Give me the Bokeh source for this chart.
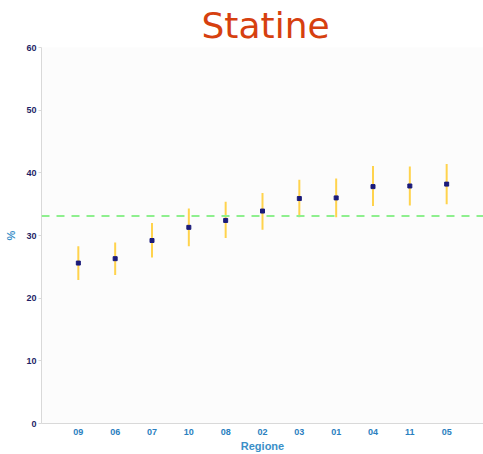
from bokeh.plotting import figure
from bokeh.models import FactorRange, Range1d, Span, ColumnDataSource
from bokeh.embed import file_html
from bokeh.resources import INLINE

regions = ["09", "06", "07", "10", "08", "02", "03", "01", "04", "11", "05"]
values = [25.6, 26.3, 29.2, 31.3, 32.4, 33.9, 35.9, 36.0, 37.8, 37.9, 38.2]
lower = [22.9, 23.7, 26.5, 28.3, 29.6, 30.9, 32.9, 32.9, 34.7, 34.8, 35.0]
upper = [28.3, 28.9, 32.0, 34.3, 35.4, 36.8, 38.9, 39.1, 41.1, 41.0, 41.4]
reference = 33.1
y_ticks = [0, 10, 20, 30, 40, 50, 60]
title_text = "Statine"

src = ColumnDataSource(data=dict(r=regions, v=values, lo=lower, hi=upper))

p = figure(
    x_range=FactorRange(*regions, range_padding=0.5, range_padding_units="absolute"),
    y_range=Range1d(0, 60),
    width=483, height=454,
    min_border_left=41, min_border_right=0, min_border_top=47, min_border_bottom=31,
    output_backend="svg", toolbar_location=None,
    background_fill_color="#fcfcfc", border_fill_color="white",
    title=title_text,
)
p.outline_line_color = None
p.xgrid.grid_line_color = None
p.ygrid.grid_line_color = None

p.title.text_font = "DejaVu Sans"
p.title.text_font_size = "36px"
p.title.text_font_style = "normal"
p.title.text_color = "#d6400f"
p.title.align = "left"
p.title.offset = 160
p.title.standoff = 0
p.title.vertical_align = "top"

# error bars
p.segment(x0="r", y0="lo", x1="r", y1="hi", source=src, line_color="#ffd34d", line_width=2)
# points
p.scatter(x="r", y="v", source=src, marker="square", size=4,
          fill_color="#1b1b7a", line_color="#1b1b7a", line_width=1)

# reference line
p.add_layout(Span(location=reference, dimension="width", line_color="#8ef08e",
                  line_width=2, line_dash="8 7"))

# y axis
ya = p.yaxis[0]
ya.ticker = y_ticks
ya.axis_line_color = "#d9d9d9"
ya.major_tick_line_color = "#d9d9d9"
ya.major_tick_out = 3
ya.major_tick_in = 0
ya.minor_tick_line_color = None
ya.major_label_standoff = 2
ya.major_label_text_font = "Liberation Sans"
ya.major_label_text_font_style = "bold"
ya.major_label_text_font_size = "9px"
ya.major_label_text_color = "#1f1f66"
ya.axis_label = "%"
ya.axis_label_standoff = 6
ya.axis_label_text_font = "Liberation Sans"
ya.axis_label_text_font_style = "bold"
ya.axis_label_text_font_size = "11px"
ya.axis_label_text_color = "#3a8fc8"

# x axis
xa = p.xaxis[0]
xa.axis_line_color = "#d9d9d9"
xa.major_tick_line_color = None
xa.major_tick_out = 0
xa.major_tick_in = 0
xa.major_label_standoff = 5
xa.major_label_text_font = "Liberation Sans"
xa.major_label_text_font_style = "bold"
xa.major_label_text_font_size = "9px"
xa.major_label_text_color = "#2a80c0"
xa.axis_label = "Regione"
xa.axis_label_standoff = 2
xa.axis_label_text_font = "Liberation Sans"
xa.axis_label_text_font_style = "bold"
xa.axis_label_text_font_size = "11px"
xa.axis_label_text_color = "#3a8fc8"

open("out.html", "w").write(file_html(p, INLINE))
